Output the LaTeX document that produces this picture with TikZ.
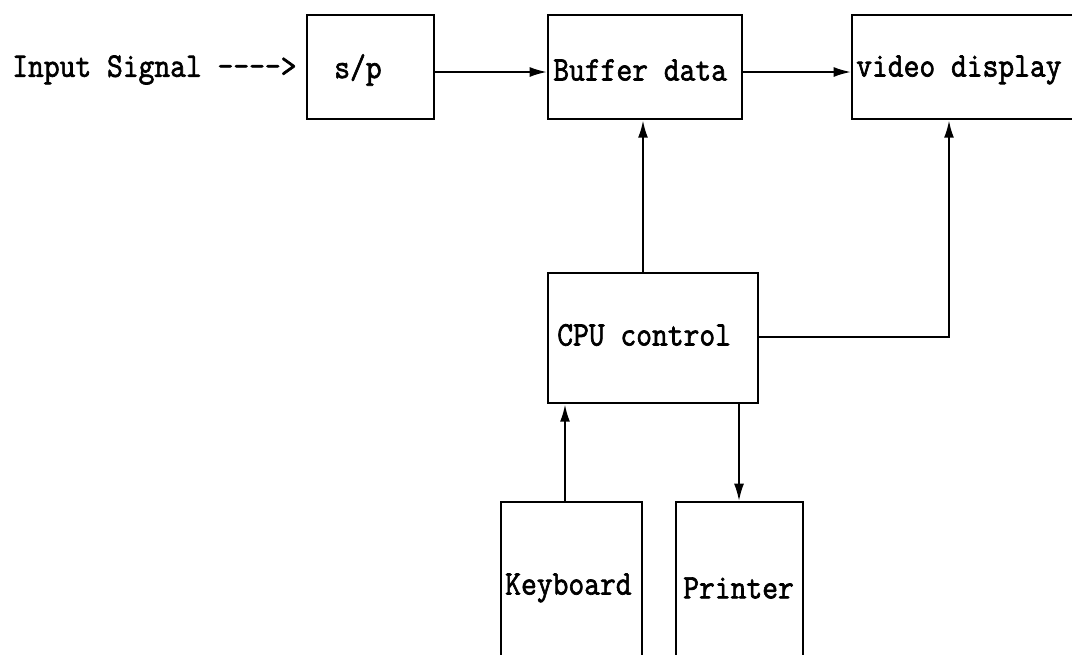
\documentclass[tikz,border=0pt]{standalone}
\usepackage{fontspec}
\newfontfamily\diafont{Latin Modern Mono}[FakeBold=2]
\usetikzlibrary{arrows.meta}
\begin{document}
\begin{tikzpicture}[x=0.75pt,y=-0.75pt,
  blk/.style={draw,line width=1.8pt,inner sep=0pt,anchor=north west},
  lbl/.style={font=\diafont\fontsize{23}{27}\selectfont,inner sep=0pt,yscale=1.12,transform shape},
  conn/.style={line width=1.5pt,-{Latex[length=13pt,width=7.5pt]}}]
\useasboundingbox (0,0) rectangle (1072,654);
\begin{scope}
\clip (0,0) rectangle (1072,654);
% boxes
\node[blk,minimum width=127*0.75pt,minimum height=104*0.75pt] (sp) at (306,14) {};
\node[blk,minimum width=194*0.75pt,minimum height=104*0.75pt] (buf) at (547,14) {};
\node[blk,minimum width=240*0.75pt,minimum height=104*0.75pt] (vid) at (851,14) {};
\node[blk,minimum width=210*0.75pt,minimum height=130*0.75pt] (cpu) at (547,272) {};
\node[blk,minimum width=141*0.75pt,minimum height=180*0.75pt] (kbd) at (500,501) {};
\node[blk,minimum width=127*0.75pt,minimum height=180*0.75pt] (prn) at (675,501) {};
% labels
\node[lbl,anchor=west] (tin) at (12,70) {Input Signal -{}-{}-{}->};
\node[lbl,anchor=west] (tsp) at (334,70) {s/p};
\node[lbl,anchor=west] (tbuf) at (553,70) {Buffer data};
\node[lbl,anchor=west] (tvid) at (856,70) {video display};
\node[lbl,anchor=west] (tcpu) at (557,335) {CPU control};
\node[lbl,anchor=west] (tkbd) at (505,588) {Keyboard};
\node[lbl,anchor=west] (tprn) at (683,588) {Printer};
% connectors
\draw[conn] (sp.east |- 0,72) -- (buf.west |- 0,72);
\draw[conn] (buf.east |- 0,72) -- (vid.west |- 0,72);
\draw[conn] (cpu.north -| 643,0) -- (buf.south -| 643,0);
\draw[conn] (cpu.east |- 0,337) -| (vid.south -| 949,0);
\draw[conn] (kbd.north -| 565,0) -- (cpu.south -| 565,0);
\draw[conn] (cpu.south -| 739,0) -- (prn.north -| 739,0);
\end{scope}
\end{tikzpicture}
\end{document}
